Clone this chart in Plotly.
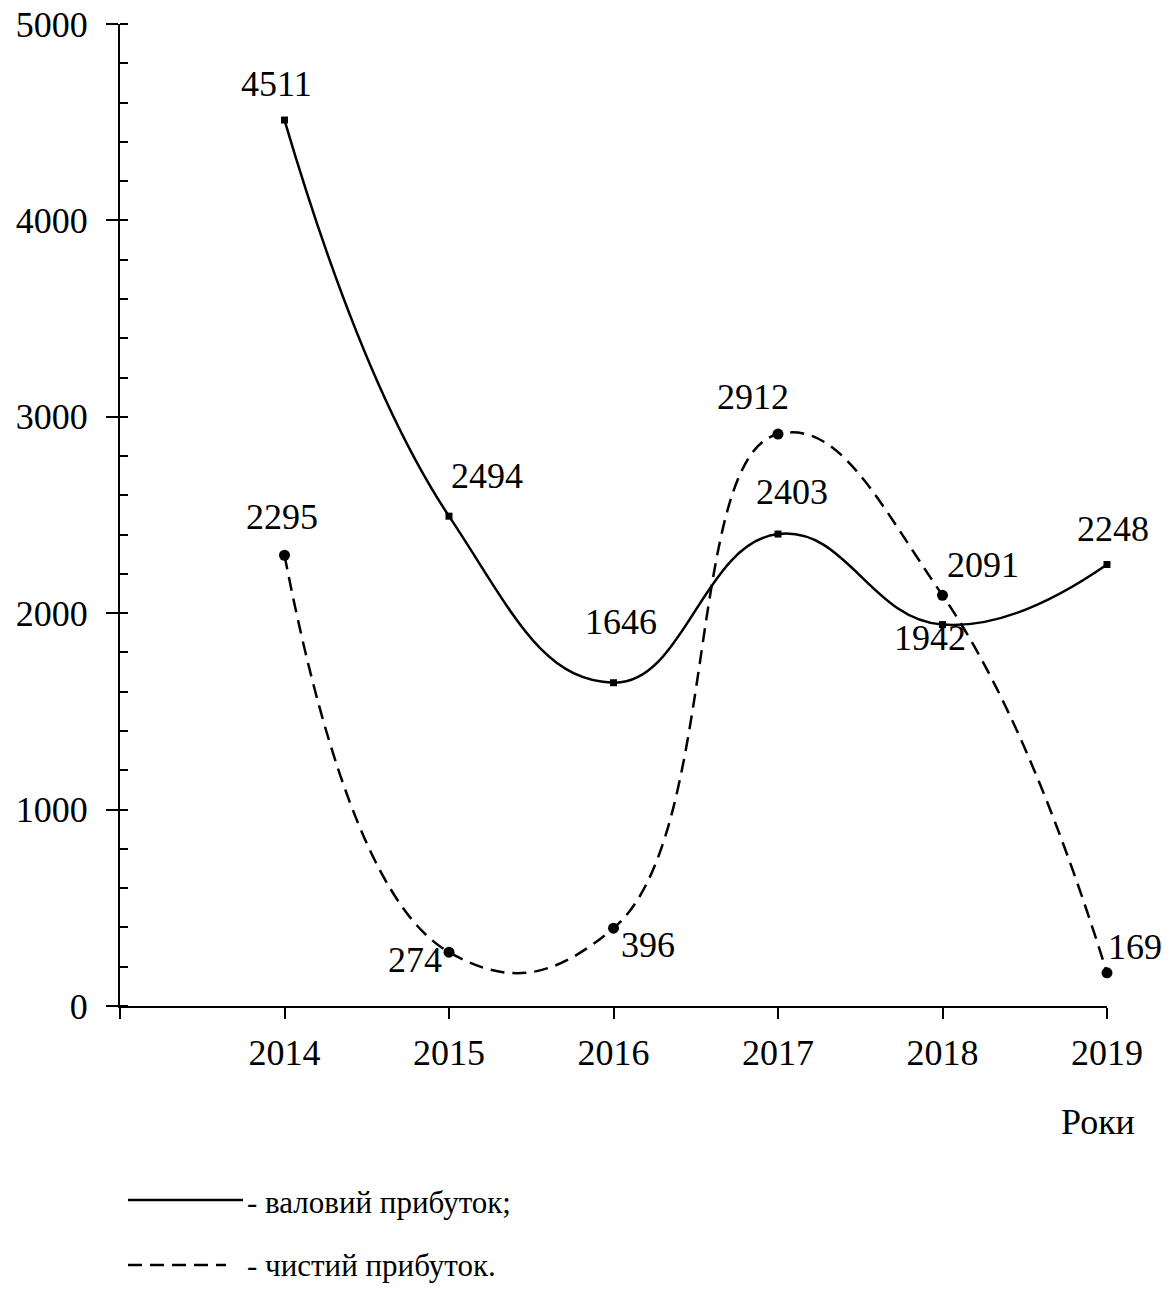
import plotly.graph_objects as go

years = [2014, 2015, 2016, 2017, 2018, 2019]
gross_profit = [4511, 2494, 1646, 2403, 1942, 2248]
net_profit = [2295, 274, 396, 2912, 2091, 169]
x_tick_vals = [2013, 2014, 2015, 2016, 2017, 2018, 2019]
x_tick_text = ["", "2014", "2015", "2016", "2017", "2018", "2019"]
y_tick_vals = [0, 1000, 2000, 3000, 4000, 5000]

# label offsets (pixels) for data labels
gross_off = [(-8, 36), (38, 40), (7, 61), (14, 42), (-13, -13), (6, 35)]
net_off = [(-3, 38), (-34, -8), (34, -17), (-25, 37), (40, 30), (28, 26)]

FONT = "Liberation Serif"
fig = go.Figure()

fig.add_trace(go.Scatter(
    x=years, y=gross_profit, mode="lines+markers",
    line=dict(color="black", width=2.5, shape="spline", smoothing=1.3),
    marker=dict(symbol="square", size=7, color="black"),
    showlegend=False, hoverinfo="skip", cliponaxis=False))
fig.add_trace(go.Scatter(
    x=years, y=net_profit, mode="lines+markers",
    line=dict(color="black", width=2.5, shape="spline", smoothing=1.3, dash="14px,8px"),
    marker=dict(symbol="circle", size=11, color="black"),
    showlegend=False, hoverinfo="skip", cliponaxis=False))

ann = []
for xv, yv, (dx, dy) in zip(years, gross_profit, gross_off):
    ann.append(dict(x=xv, y=yv, xref="x", yref="y", text=str(yv), showarrow=False,
                    xshift=dx, yshift=dy, font=dict(family=FONT, size=36, color="black")))
for xv, yv, (dx, dy) in zip(years, net_profit, net_off):
    ann.append(dict(x=xv, y=yv, xref="x", yref="y", text=str(yv), showarrow=False,
                    xshift=dx, yshift=dy, font=dict(family=FONT, size=36, color="black")))

H = 982.0
W = 987.0
def py(p):
    return (1006 - p) / H
def px(p):
    return (p - 120) / W

ann.append(dict(x=px(1098), y=py(1122), xref="paper", yref="paper", text="Роки", showarrow=False,
                xanchor="center", yanchor="middle", font=dict(family=FONT, size=36, color="black")))
ann.append(dict(x=px(245), y=py(1202), xref="paper", yref="paper",
                text="- валовий прибуток;", showarrow=False, xanchor="left", yanchor="middle",
                font=dict(family=FONT, size=31, color="black")))
ann.append(dict(x=px(245), y=py(1265), xref="paper", yref="paper",
                text="- чистий прибуток.", showarrow=False, xanchor="left", yanchor="middle",
                font=dict(family=FONT, size=31, color="black")))

shapes = [
    dict(type="line", xref="paper", yref="paper", x0=px(128), x1=px(243),
         y0=py(1200), y1=py(1200), line=dict(color="black", width=2.5)),
    dict(type="line", xref="paper", yref="paper", x0=px(128), x1=px(226),
         y0=py(1265), y1=py(1265), line=dict(color="black", width=2.5, dash="14px,8px")),
]

fig.update_layout(
    width=1176, height=1290,
    margin=dict(l=120, r=69, t=24, b=284, autoexpand=False),
    paper_bgcolor="white", plot_bgcolor="white",
    font=dict(family=FONT, size=36, color="black"),
    annotations=ann, shapes=shapes,
    xaxis=dict(range=[2013, 2019], tickvals=x_tick_vals, ticktext=x_tick_text,
               showgrid=False, zeroline=False, showline=True, linecolor="black", linewidth=2,
               ticks="outside", ticklen=11, tickwidth=1.5, tickcolor="black",
               tickfont=dict(family=FONT, size=36, color="black"), ticklabelstandoff=3),
    yaxis=dict(range=[0, 5000], tickvals=y_tick_vals, ticklabeloverflow="allow",
               showgrid=False, zeroline=False, showline=True, linecolor="black", linewidth=2,
               ticks="outside", ticklen=12, tickwidth=1.5, tickcolor="black",
               tickfont=dict(family=FONT, size=36, color="black"), ticklabelstandoff=11,
               minor=dict(dtick=200, tick0=0, ticks="inside", ticklen=8, tickwidth=1.5,
                          tickcolor="black", showgrid=False)),
)

fig.write_html("out.html", config={"displayModeBar": False},
               post_script="document.body.style.margin='0';document.body.style.overflow='hidden';")
